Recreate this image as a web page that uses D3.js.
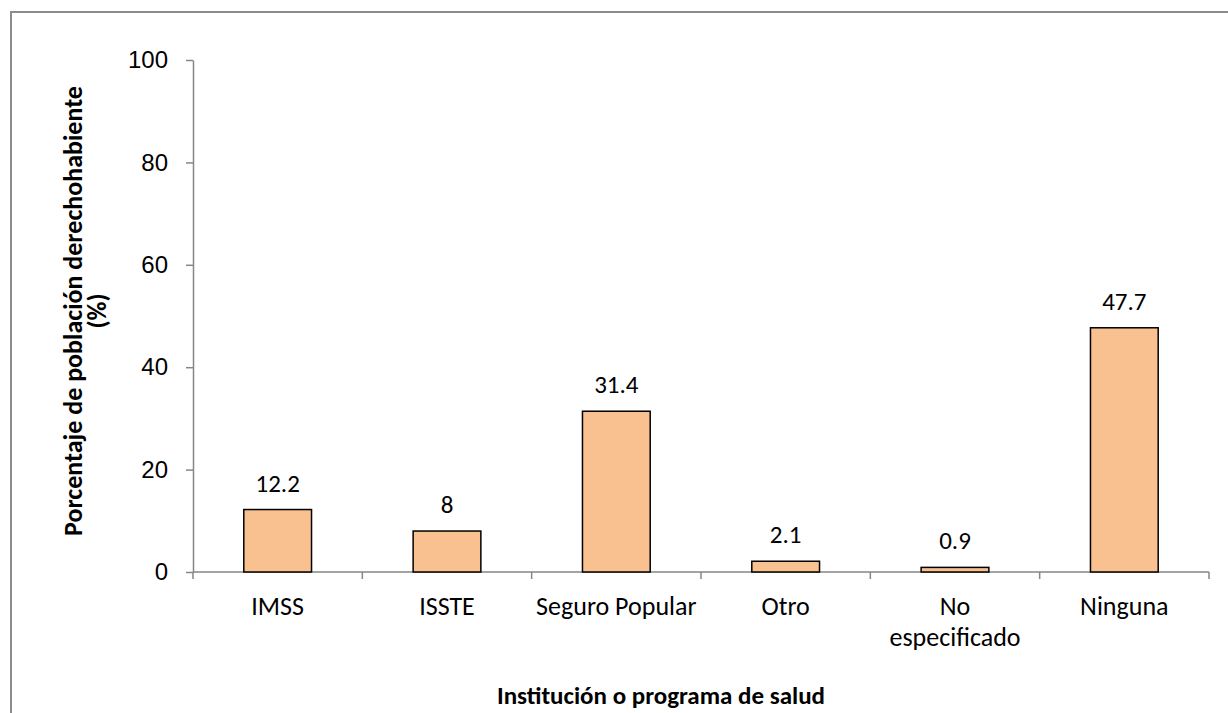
<!DOCTYPE html>
<html><head><meta charset="utf-8">
<script src="https://cdn.jsdelivr.net/npm/d3@7"></script>
<style>
html,body{margin:0;padding:0;background:#fff;}
svg{display:block;font-family:Carlito, Calibri, Lato, "Open Sans", sans-serif;}
</style></head>
<body>
<script>
const categories = ["IMSS", "ISSTE", "Seguro Popular", "Otro", "No especificado", "Ninguna"];
const categoryLines = [["IMSS"], ["ISSTE"], ["Seguro Popular"], ["Otro"], ["No", "especificado"], ["Ninguna"]];
const values = [12.2, 8, 31.4, 2.1, 0.9, 47.7];
const valueLabels = ["12.2", "8", "31.4", "2.1", "0.9", "47.7"];
const yTicks = [0, 20, 40, 60, 80, 100];
const yTitle = ["Porcentaje de población derechohabiente", "(%)"];
const xTitle = "Institución o programa de salud";

const W = 1228, H = 713;
const svg = d3.select("body").append("svg").attr("width", W).attr("height", H);

// outer chart border
svg.append("rect").attr("x", 11).attr("y", 12).attr("width", W).attr("height", H)
  .attr("fill", "none").attr("stroke", "#8c8c8c").attr("stroke-width", 2);

const x0 = 193, x1 = 1209, yBot = 572, yTop = 60;
const x = d3.scaleBand().domain(categories).range([x0, x1]).paddingInner(0.6).paddingOuter(0.3);
const y = d3.scaleLinear().domain([0, 100]).range([yBot, yTop]);
const fs = 25;

// y axis
const yAxis = svg.append("g").attr("transform", `translate(${x0},0)`)
  .call(d3.axisLeft(y).tickValues(yTicks).tickSize(7).tickSizeOuter(0).tickPadding(18));
yAxis.select(".domain").attr("stroke", "#868686").attr("stroke-width", 1.5);
yAxis.selectAll(".tick line").attr("stroke", "#868686").attr("stroke-width", 1.5);
yAxis.selectAll(".tick text").attr("font-size", 24).attr("fill", "#000").attr("font-family", null);

// x axis line + ticks at band boundaries
const xb = d3.scaleLinear().domain([0, categories.length]).range([x0, x1]);
svg.append("line").attr("x1", x0).attr("x2", x1).attr("y1", yBot).attr("y2", yBot)
  .attr("stroke", "#868686").attr("stroke-width", 1.5);
svg.append("g").selectAll("line").data(d3.range(categories.length + 1)).join("line")
  .attr("x1", d => xb(d)).attr("x2", d => xb(d)).attr("y1", yBot).attr("y2", yBot + 7)
  .attr("stroke", "#868686").attr("stroke-width", 1.5);

// bars
svg.append("g").selectAll("rect").data(values).join("rect")
  .attr("x", (d, i) => x(categories[i]))
  .attr("width", x.bandwidth())
  .attr("y", d => y(d))
  .attr("height", d => y(0) - y(d))
  .attr("fill", "#F9C090").attr("stroke", "#000").attr("stroke-width", 1.5);

// value labels
svg.append("g").selectAll("text").data(values).join("text")
  .attr("x", (d, i) => x(categories[i]) + x.bandwidth() / 2)
  .attr("y", d => y(d) - 18)
  .attr("text-anchor", "middle").attr("font-size", fs).attr("fill", "#000")
  .text((d, i) => valueLabels[i]);

// category labels
const cl = svg.append("g").selectAll("text").data(categoryLines).join("text")
  .attr("text-anchor", "middle").attr("font-size", 26).attr("fill", "#000")
  .attr("x", (d, i) => x(categories[i]) + x.bandwidth() / 2)
  .attr("y", 615);
cl.selectAll("tspan").data(d => d).join("tspan")
  .attr("x", function () { return d3.select(this.parentNode).attr("x"); })
  .attr("dy", (d, j) => j === 0 ? 0 : 31)
  .text(d => d);

// axis titles
svg.append("text").attr("x", 661).attr("y", 704)
  .attr("text-anchor", "middle").attr("font-size", 25).attr("font-weight", "bold")
  .text(xTitle);
const yt = svg.append("text").attr("transform", `translate(82,311) rotate(-90)`)
  .attr("text-anchor", "middle").attr("font-size", 26).attr("font-weight", "bold");
yt.selectAll("tspan").data(yTitle).join("tspan")
  .attr("x", 0).attr("dy", (d, j) => j === 0 ? 0 : 24).text(d => d);
</script>
</body></html>
